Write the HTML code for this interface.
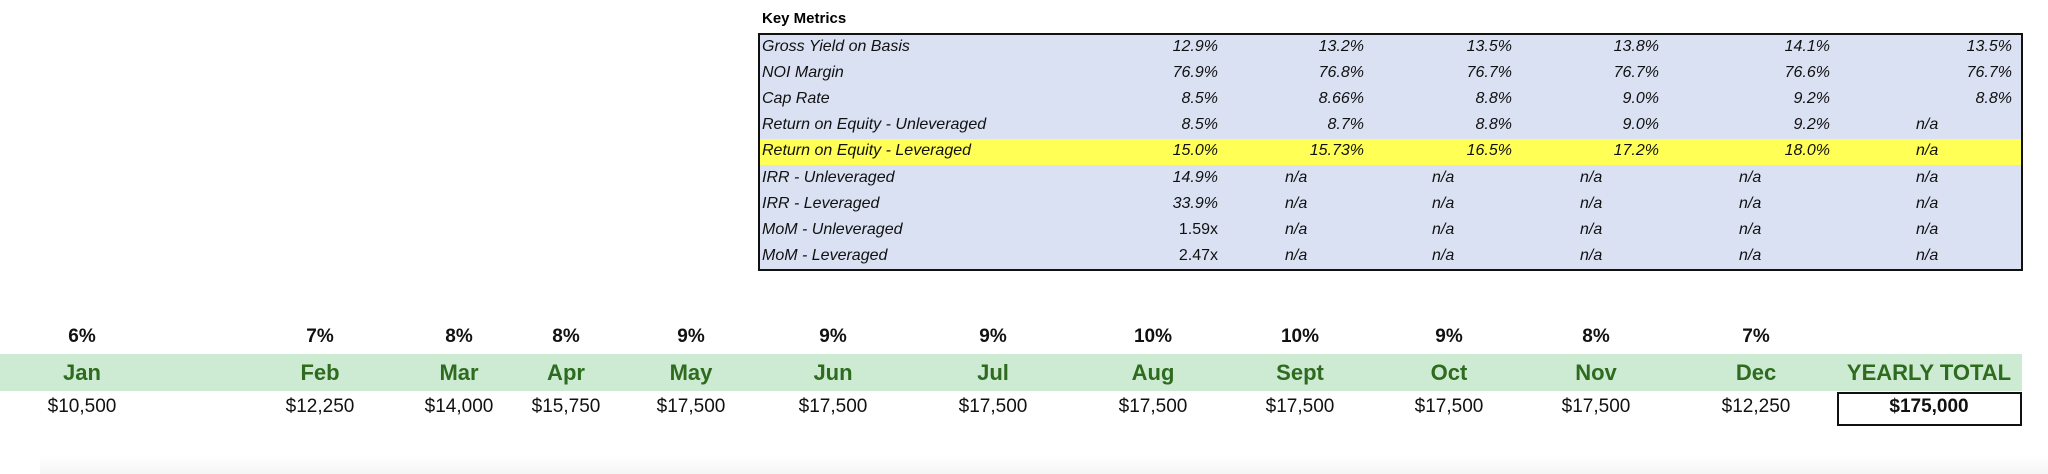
<!DOCTYPE html>
<html><head><meta charset="utf-8"><style>
body{margin:0;width:2048px;height:474px;background:#fff;position:relative;overflow:hidden;font-family:"Liberation Sans",sans-serif;}
.a{position:absolute;white-space:nowrap;}
#tbl{position:absolute;left:758px;top:33px;width:1261px;height:234px;border:2px solid #111;background:#d9e1f2;}
.row{position:absolute;left:0;width:100%;height:26px;}
.t{position:absolute;font-style:italic;font-size:16px;line-height:26px;color:#111;}
.r{text-align:right;}
.ctr{transform:translateX(-50%);text-align:center;}
.pct{font-weight:bold;font-size:19px;color:#111;top:326px;}
.mon{font-weight:bold;font-size:22px;color:#2f6b1f;top:360px;}
.usd{font-size:19px;color:#111;top:396px;}
#rows{position:absolute;left:0;top:0;width:2048px;height:474px;z-index:5;}
</style></head><body>
<div class="a" style="left:762px;top:10px;font-weight:bold;font-size:15px;">Key Metrics</div>
<div id="tbl">
<div class="row" style="top:104px;background:#ffff55;"></div>
</div>
<div class="a" style="left:0;top:354px;width:2022px;height:37px;background:#ccebd2;"></div>
<div class="a" style="left:1837px;top:392px;width:181px;height:30px;border:2px solid #111;"></div>
<div class="a" style="left:40px;top:455px;width:2008px;height:19px;background:linear-gradient(#fff,#f5f5f5);"></div>
<div id="rows"></div>
<script>
var labels=["Gross Yield on Basis","NOI Margin","Cap Rate","Return on Equity - Unleveraged","Return on Equity - Leveraged","IRR - Unleveraged","IRR - Leveraged","MoM - Unleveraged","MoM - Leveraged"];
var data=[["12.9%","13.2%","13.5%","13.8%","14.1%","13.5%"],["76.9%","76.8%","76.7%","76.7%","76.6%","76.7%"],["8.5%","8.66%","8.8%","9.0%","9.2%","8.8%"],["8.5%","8.7%","8.8%","9.0%","9.2%","n/a"],["15.0%","15.73%","16.5%","17.2%","18.0%","n/a"],["14.9%","n/a","n/a","n/a","n/a","n/a"],["33.9%","n/a","n/a","n/a","n/a","n/a"],["1.59x","n/a","n/a","n/a","n/a","n/a"],["2.47x","n/a","n/a","n/a","n/a","n/a"]];
var rights=[1218,1364,1512,1659,1830,2012];
var nal=[1218,1285,1432,1580,1739,1916];
var h="";
for(var i=0;i<9;i++){var y=34+i*26.1;
h+='<div class="a t" style="left:762px;top:'+y+'px">'+labels[i]+'</div>';
for(var j=0;j<6;j++){var v=data[i][j];
if(v=="n/a"&&j>0){h+='<div class="a t" style="left:'+nal[j]+'px;top:'+y+'px">n/a</div>';}
else{var st=(v.indexOf("x")>0)?"font-style:normal;":"";h+='<div class="a t r" style="'+st+'right:'+(2048-rights[j])+'px;top:'+y+'px">'+v+'</div>';}}}
var cx=[82,320,459,566,691,833,993,1153,1300,1449,1596,1756,1929];
var pc=["6%","7%","8%","8%","9%","9%","9%","10%","10%","9%","8%","7%",""];
var mo=["Jan","Feb","Mar","Apr","May","Jun","Jul","Aug","Sept","Oct","Nov","Dec","YEARLY TOTAL"];
var us=["$10,500","$12,250","$14,000","$15,750","$17,500","$17,500","$17,500","$17,500","$17,500","$17,500","$17,500","$12,250","$175,000"];
for(var k=0;k<13;k++){
h+='<div class="a ctr pct" style="left:'+cx[k]+'px">'+pc[k]+'</div>';
h+='<div class="a ctr mon" style="left:'+cx[k]+'px">'+mo[k]+'</div>';
h+='<div class="a ctr usd" style="left:'+cx[k]+'px;'+(k==12?'font-weight:bold;':'')+'">'+us[k]+'</div>';}
document.getElementById("rows").innerHTML=h;
</script>
</body></html>
